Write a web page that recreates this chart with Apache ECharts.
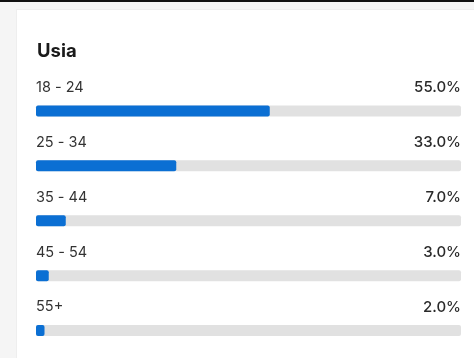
<!DOCTYPE html>
<html>
<head>
<meta charset="utf-8">
<script src="https://cdn.jsdelivr.net/npm/echarts@6/dist/echarts.min.js"></script>
<style>
html,body{margin:0;padding:0;background:#f5f5f5;overflow:hidden;}
#c{width:474px;height:358px;}
</style>
</head>
<body>
<div id="c"></div>
<script>
var title = 'Usia';
var categories = ['18 - 24', '25 - 34', '35 - 44', '45 - 54', '55+'];
var values = [55.0, 33.0, 7.0, 3.0, 2.0];
var maxValue = 100;

var chart = echarts.init(document.getElementById('c'), null, {renderer: 'canvas'});
var FONT = 'Inter, "Open Sans", sans-serif';
chart.setOption({
  backgroundColor: '#f5f5f5',
  animation: false,
  graphic: [
    {type: 'rect', z: -10, left: 17, top: 10, shape: {width: 457, height: 348},
     style: {fill: '#ffffff'}},
    {type: 'rect', z: -11, left: 16, top: 9, shape: {width: 458, height: 349},
     style: {fill: '#eeeeee'}},
    {type: 'rect', z: 10, left: 0, top: 0, shape: {width: 474, height: 2}, style: {fill: '#111111'}}
  ],
  title: {
    text: title, left: 32, top: 37,
    textStyle: {fontFamily: FONT, fontSize: 18.5, fontWeight: 'bold', color: '#1a1a1a'}
  },
  grid: {left: 36, right: 13, top: 83.5, height: 290, containLabel: false},
  xAxis: {type: 'value', min: 0, max: maxValue, show: false},
  yAxis: {
    type: 'category', data: categories, inverse: true,
    axisLine: {show: false}, axisTick: {show: false}, axisLabel: {show: false}, splitLine: {show: false}
  },
  series: [
    {
      type: 'bar', data: categories.map(function(){ return maxValue; }),
      barWidth: 11, barGap: '-100%', silent: true,
      itemStyle: {color: '#e1e1e1', borderRadius: 2},
      label: {
        show: true, position: ['100%', -18], align: 'right', verticalAlign: 'middle',
        fontFamily: FONT, fontSize: 15, fontWeight: 500, color: '#2a2a2a',
        formatter: function(p){ return values[p.dataIndex].toFixed(1) + '%'; }
      }
    },
    {
      type: 'bar', data: values,
      barWidth: 11, barGap: '-100%',
      itemStyle: {color: '#0b6fd3', borderRadius: 2},
      label: {
        show: true, position: [0, -18], align: 'left', verticalAlign: 'middle',
        fontFamily: FONT, fontSize: 14.5, color: '#333333',
        formatter: function(p){ return categories[p.dataIndex]; }
      }
    }
  ]
});
</script>
</body>
</html>
